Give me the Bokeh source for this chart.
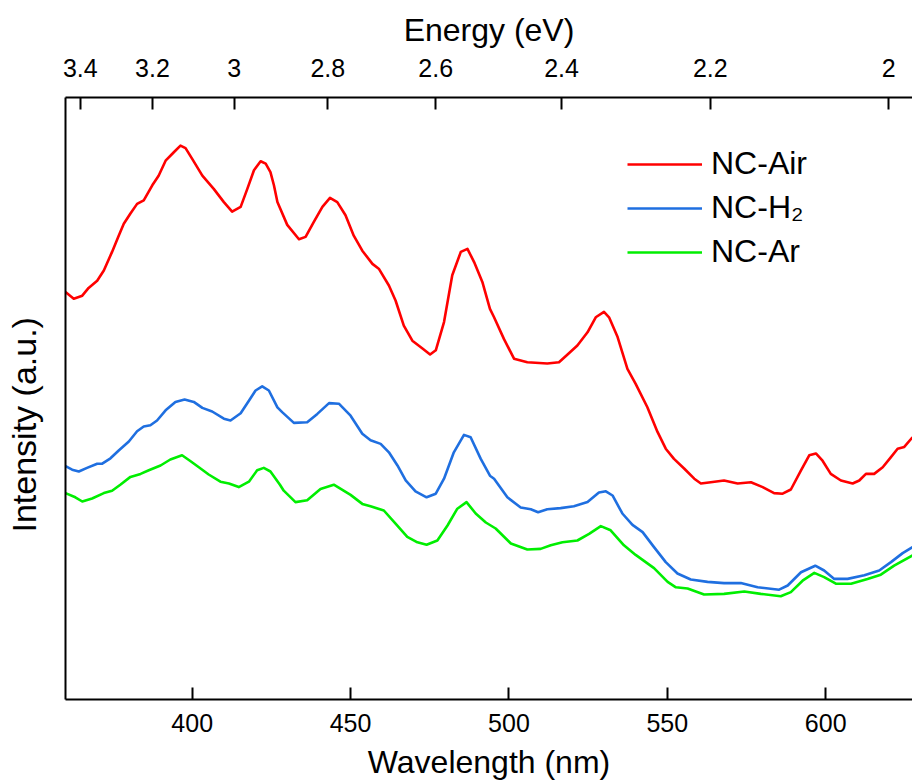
from bokeh.plotting import figure
from bokeh.models import (Range1d, LinearAxis, FixedTicker, CustomJSTickFormatter,
                          Legend, LegendItem, Title)
from bokeh.embed import file_html
from bokeh.resources import INLINE

# ---------------- data (wavelength in nm, intensity in a.u.) ----------------
air_wl = [360.0, 362.6, 365.3, 367.3, 370.0, 372.1, 374.7, 376.8, 378.4, 380.5,
          382.6, 384.7, 387.4, 389.4, 391.6, 394.2, 396.3, 397.9, 400.0, 403.2,
          406.8, 410.0, 412.6, 415.3, 417.4, 419.5, 421.6, 423.2, 424.7, 425.8,
          426.9, 430.0, 433.7, 435.8, 438.4, 441.1, 443.5, 445.8, 448.4, 451.0,
          453.7, 456.9, 458.9, 462.1, 464.2, 466.8, 469.5, 472.7, 475.1, 476.9,
          479.5, 482.1, 484.8, 486.9, 489.0, 491.6, 494.0, 495.3, 498.4, 501.6,
          505.8, 512.1, 515.8, 518.5, 521.6, 524.8, 527.4, 530.0, 531.6, 534.3,
          537.4, 540.0, 543.7, 546.9, 549.5, 552.1, 555.3, 558.5, 560.6, 563.7,
          567.9, 572.2, 576.4, 580.1, 583.7, 586.4, 589.0, 592.2, 594.8, 596.9,
          599.0, 601.6, 604.8, 608.5, 610.6, 612.7, 615.3, 618.0, 620.6, 622.7,
          624.8, 627.4]
air_int = [67.9, 66.8, 67.3, 68.6, 69.8, 71.5, 74.6, 77.3, 79.3, 81.0,
           82.6, 83.2, 85.7, 87.3, 89.8, 91.2, 92.3, 91.9, 90.1, 87.3,
           85.1, 82.9, 81.3, 82.1, 85.1, 88.2, 89.7, 89.3, 87.9, 85.7,
           82.9, 79.1, 76.7, 77.1, 79.6, 82.1, 83.6, 82.9, 80.7, 77.3,
           74.8, 72.6, 71.8, 69.0, 66.5, 62.3, 59.8, 58.5, 57.5, 58.2,
           62.9, 70.7, 74.6, 75.1, 72.9, 69.6, 65.1, 63.7, 60.1, 56.8,
           56.2, 56.0, 56.2, 57.5, 59.0, 61.2, 63.7, 64.6, 63.7, 60.4,
           55.1, 52.6, 48.7, 44.6, 41.8, 40.1, 38.5, 36.8, 36.0, 36.2,
           36.5, 36.0, 36.2, 35.4, 34.4, 34.3, 35.0, 38.2, 40.7, 41.0,
           39.8, 37.6, 36.5, 36.0, 36.5, 37.6, 37.6, 38.7, 40.4, 41.8,
           42.1, 43.7]

h2_wl = [360.0, 362.1, 364.2, 366.8, 370.0, 371.6, 374.2, 376.8, 380.0, 382.6,
         384.7, 386.8, 388.9, 391.6, 394.7, 397.6, 400.5, 403.2, 406.3, 410.0,
         412.1, 415.3, 417.9, 420.0, 422.1, 424.2, 426.9, 428.4, 432.1, 436.3,
         439.5, 443.2, 446.3, 450.0, 453.7, 456.3, 459.5, 462.1, 464.8, 467.4,
         470.5, 474.0, 476.9, 479.5, 482.6, 485.8, 487.9, 491.1, 494.0, 495.3,
         499.5, 503.7, 506.9, 509.2, 512.1, 516.3, 520.5, 524.8, 528.4, 530.6,
         532.7, 535.8, 539.0, 542.2, 545.8, 549.5, 553.2, 557.4, 562.7, 567.9,
         573.2, 578.5, 585.3, 588.0, 592.2, 596.7, 599.5, 602.7, 606.9, 612.2,
         616.9, 620.6, 624.3, 627.4]
h2_int = [38.9, 38.3, 38.0, 38.6, 39.3, 39.3, 40.2, 41.5, 43.0, 44.7,
          45.5, 45.7, 46.5, 48.2, 49.6, 50.0, 49.6, 48.6, 48.0, 46.8,
          46.5, 47.7, 49.8, 51.5, 52.2, 51.5, 48.7, 47.9, 46.1, 46.2,
          47.6, 49.4, 49.3, 47.3, 44.3, 43.2, 42.6, 41.2, 39.0, 36.5,
          34.7, 33.7, 34.3, 36.8, 41.2, 44.1, 43.7, 40.1, 37.3, 36.8,
          33.7, 32.0, 31.7, 31.2, 31.7, 31.9, 32.2, 32.9, 34.5, 34.7,
          34.0, 31.0, 29.1, 27.9, 25.4, 22.9, 21.0, 20.0, 19.6, 19.4,
          19.4, 18.7, 18.3, 19.0, 21.2, 22.3, 21.5, 20.1, 20.1, 20.7,
          21.5, 22.9, 24.4, 25.4]

ar_wl = [360.0, 363.1, 365.3, 368.4, 372.1, 374.7, 377.3, 380.5, 383.7, 386.3,
         390.0, 393.1, 396.8, 399.5, 402.1, 405.2, 408.9, 411.6, 414.7, 417.9,
         420.5, 422.6, 424.7, 427.7, 428.9, 432.6, 436.3, 440.5, 444.7, 450.0,
         453.7, 456.3, 460.5, 464.2, 467.9, 471.1, 474.0, 477.4, 480.6, 483.7,
         486.6, 489.5, 492.7, 495.8, 500.6, 505.8, 510.0, 513.2, 516.9, 521.6,
         525.3, 529.0, 532.1, 536.3, 540.0, 545.8, 550.1, 552.7, 556.4, 561.6,
         567.9, 574.3, 579.5, 585.8, 589.0, 592.7, 596.4, 599.5, 603.2, 608.0,
         613.2, 617.4, 621.6, 627.4]
ar_int = [34.4, 33.7, 33.0, 33.5, 34.4, 34.8, 35.8, 37.1, 37.6, 38.2,
          39.0, 40.0, 40.7, 39.7, 38.7, 37.5, 36.3, 36.0, 35.4, 36.3,
          38.2, 38.6, 38.0, 35.8, 34.8, 32.9, 33.2, 35.1, 35.8, 34.1,
          32.6, 32.2, 31.5, 29.3, 27.1, 26.2, 25.8, 26.5, 29.0, 31.8,
          32.9, 31.0, 29.5, 28.5, 26.0, 25.0, 25.1, 25.7, 26.2, 26.5,
          27.6, 28.9, 28.2, 25.7, 24.1, 21.9, 19.6, 18.7, 18.5, 17.5,
          17.6, 18.0, 17.6, 17.2, 17.9, 19.8, 21.1, 20.4, 19.3, 19.3,
          20.1, 20.8, 22.3, 24.0]

series_names = ["NC-Air", "NC-H\u2082", "NC-Ar"]
series_colors = ["#FF0000", "#1F6FE0", "#00EE00"]

wl_ticks = [400, 450, 500, 550, 600]
energy_ticks = [3.4, 3.2, 3.0, 2.8, 2.6, 2.4, 2.2, 2.0]
HC = 1239.84  # eV*nm

x_title = "Wavelength (nm)"
top_title = "Energy (eV)"
y_title = "Intensity (a.u.)"

FONT = "Liberation Sans"

# ---------------- figure ----------------
p = figure(width=912, height=782, output_backend="svg", toolbar_location=None,
           x_range=Range1d(360, 627.4), y_range=Range1d(0, 100.33),
           x_axis_location=None, y_axis_location=None,
           min_border_left=65, min_border_right=0, min_border_top=97,
           min_border_bottom=83)
p.outline_line_color = None
p.grid.visible = False
p.background_fill_color = "white"
p.border_fill_color = "white"

bottom = LinearAxis(ticker=FixedTicker(ticks=wl_ticks), axis_label=x_title)
top = LinearAxis(ticker=FixedTicker(ticks=[HC / e for e in energy_ticks]),
                 formatter=CustomJSTickFormatter(
                     code="return (Math.round(1239.84 / tick * 10) / 10).toString();"),
                 axis_label=top_title)
left = LinearAxis(ticker=FixedTicker(ticks=[]), axis_label=" ")

for ax in (bottom, top, left):
    ax.axis_line_width = 2
    ax.axis_line_color = "black"
    ax.major_tick_line_width = 2
    ax.major_tick_line_color = "black"
    ax.major_tick_in = 12
    ax.major_tick_out = 0
    ax.minor_tick_line_color = None
    ax.major_label_text_font = FONT
    ax.major_label_text_font_size = "25px"
    ax.major_label_text_color = "black"
    ax.axis_label_text_font = FONT
    ax.axis_label_text_font_size = "32px"
    ax.axis_label_text_font_style = "normal"
    ax.axis_label_text_color = "black"

bottom.major_label_standoff = 14
bottom.axis_label_standoff = 9
bottom.major_label_text_line_height = 1.0
bottom.axis_label_text_line_height = 1.0
top.major_label_standoff = 21
top.axis_label_standoff = 8
left.major_label_standoff = 0
left.major_tick_line_color = None
left.axis_label_text_font_size = "1px"
left.axis_label_standoff = 19

p.add_layout(bottom, "below")
p.add_layout(top, "above")
p.add_layout(left, "left")

ytitle = Title(text=y_title, align="left", offset=167,
               text_font=FONT, text_font_size="34px", text_font_style="normal",
               text_color="black", standoff=0)
p.add_layout(ytitle, "left")

renderers = []
for wl, inten, col in zip((air_wl, h2_wl, ar_wl), (air_int, h2_int, ar_int), series_colors):
    r = p.line(wl, inten, line_color=col, line_width=2.6, line_join="round")
    renderers.append(r)

legend = Legend(items=[LegendItem(label=n, renderers=[r]) for n, r in zip(series_names, renderers)],
                location=(562, 429))
legend.label_text_font = FONT
legend.label_text_font_size = "32px"
legend.label_text_color = "black"
legend.glyph_width = 75
legend.glyph_height = 20
legend.label_standoff = 9
legend.spacing = 7
legend.padding = 0
legend.margin = 0
legend.border_line_color = None
legend.background_fill_alpha = 0
p.add_layout(legend, "center")

open("out.html", "w").write(file_html(p, INLINE))
